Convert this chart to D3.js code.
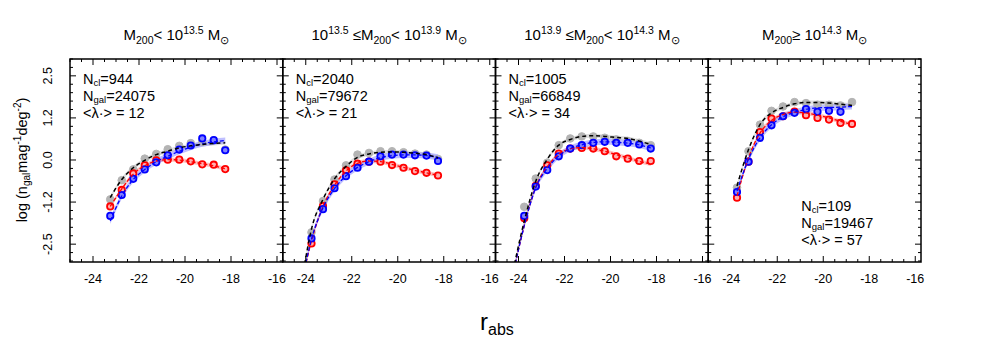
<!DOCTYPE html>
<html>
<head>
<meta charset="utf-8">
<script src="https://cdn.jsdelivr.net/npm/d3@7"></script>
<style>
  body { margin: 0; background: #fff; }
  text { font-family: "Liberation Sans", Arial, sans-serif; fill: #000; }
</style>
</head>
<body>
<div id="chart"></div>
<script>
// ---- data ----
const xTickVals = [-24, -22, -20, -18, -16];
const yTickVals = [2.5, 1.25, 0, -1.25, -2.5];
const yTickLabels = ["2.5", "1.2", "0.0", "-1.2", "-2.5"];

const nCl = ["944", "2040", "1005", "109"];
const nGal = ["24075", "79672", "66849", "19467"];
const lambdaMean = ["12", "21", "34", "57"];

// panel 1: M200 < 10^13.5
const p1Mag = [-23.25, -22.75, -22.25, -21.75, -21.25, -20.75, -20.25, -19.75, -19.25, -18.75, -18.25];
const p1Gray = [-1.17, -0.60, -0.28, 0.04, 0.18, 0.32, 0.42, 0.50, 0.54, 0.58, 0.31];
const p1Red = [-1.38, -0.89, -0.40, -0.16, -0.01, 0.01, 0.01, -0.04, -0.13, -0.14, -0.27];
const p1Blue = [-1.66, -1.04, -0.56, -0.28, -0.07, 0.14, 0.31, 0.43, 0.64, 0.59, 0.29];
const p1FitMag = [-23.25, -22.75, -22.25, -21.75, -21.25, -20.75, -20.25, -19.75, -19.25, -18.75, -18.25];
const p1FitBlack = [-1.12, -0.58, -0.23, -0.01, 0.16, 0.26, 0.36, 0.42, 0.46, 0.49, 0.51];
const p1FitRed = [-1.38, -0.86, -0.42, -0.17, -0.03, 0.01, 0.0, -0.05, -0.11, -0.17, -0.26];
const p1FitBlue = [-1.81, -1.07, -0.58, -0.28, -0.05, 0.11, 0.26, 0.38, 0.48, 0.54, 0.58];

// panel 2: 10^13.5 <= M200 < 10^13.9
const p2Mag = [-23.75, -23.25, -22.75, -22.25, -21.75, -21.25, -20.75, -20.25, -19.75, -19.25, -18.75, -18.25];
const p2Gray = [-2.15, -1.22, -0.58, -0.16, 0.16, 0.21, 0.26, 0.26, 0.23, 0.19, 0.16, 0.03];
const p2Red = [-2.48, -1.37, -0.72, -0.31, -0.11, -0.05, -0.05, -0.15, -0.23, -0.33, -0.38, -0.46];
const p2Blue = [-2.33, -1.46, -0.84, -0.48, -0.23, -0.05, 0.11, 0.16, 0.16, 0.14, 0.13, -0.03];
const p2FitMag = [-24.1, -23.75, -23.25, -22.75, -22.25, -21.75, -21.25, -20.75, -20.25, -19.75, -19.25, -18.75, -18.25];
const p2FitBlack = [-3.3, -2.05, -1.17, -0.56, -0.19, 0.08, 0.18, 0.23, 0.24, 0.23, 0.20, 0.16, 0.06];
const p2FitRed = [-3.4, -2.40, -1.38, -0.75, -0.33, -0.10, -0.03, -0.05, -0.13, -0.22, -0.31, -0.38, -0.46];
const p2FitBlue = [-3.4, -2.35, -1.42, -0.85, -0.47, -0.22, -0.05, 0.07, 0.13, 0.15, 0.15, 0.13, 0.08];

// panel 3: 10^13.9 <= M200 < 10^14.3
const p3Mag = [-23.75, -23.25, -22.75, -22.25, -21.75, -21.25, -20.75, -20.25, -19.75, -19.25, -18.75, -18.25];
const p3Gray = [-1.39, -0.55, -0.08, 0.44, 0.64, 0.70, 0.70, 0.66, 0.61, 0.56, 0.51, 0.44];
const p3Red = [-1.73, -0.77, -0.16, 0.19, 0.34, 0.36, 0.34, 0.26, 0.11, 0.04, -0.03, -0.03];
const p3Blue = [-1.66, -0.79, -0.30, 0.11, 0.34, 0.44, 0.51, 0.54, 0.51, 0.51, 0.46, 0.34];
const p3FitMag = [-24.3, -23.75, -23.25, -22.75, -22.25, -21.75, -21.25, -20.75, -20.25, -19.75, -19.25, -18.75, -18.25];
const p3FitBlack = [-3.5, -1.82, -0.63, 0.02, 0.44, 0.61, 0.70, 0.72, 0.70, 0.67, 0.64, 0.56, 0.46];
const p3FitRed = [-3.6, -1.95, -0.80, -0.20, 0.17, 0.33, 0.37, 0.33, 0.26, 0.16, 0.06, -0.04, -0.12];
const p3FitBlue = [-3.6, -1.95, -0.82, -0.25, 0.12, 0.34, 0.45, 0.52, 0.54, 0.53, 0.50, 0.45, 0.36];

// panel 4: M200 >= 10^14.3
const p4Mag = [-23.75, -23.25, -22.75, -22.25, -21.75, -21.25, -20.75, -20.25, -19.75, -19.25, -18.75];
const p4Gray = [-0.82, 0.26, 1.05, 1.46, 1.59, 1.72, 1.69, 1.64, 1.64, 1.62, 1.72];
const p4Red = [-1.12, -0.05, 0.83, 1.23, 1.30, 1.44, 1.33, 1.25, 1.20, 1.10, 1.07];
const p4Blue = [-0.95, -0.05, 0.66, 1.03, 1.30, 1.40, 1.51, 1.43, 1.46, 1.43];
const p4FitMag = [-23.75, -23.25, -22.75, -22.25, -21.75, -21.25, -20.75, -20.25, -19.75, -19.25, -18.75];
const p4FitBlack = [-0.77, 0.31, 1.05, 1.40, 1.56, 1.67, 1.71, 1.71, 1.69, 1.66, 1.62];
const p4FitRed = [-1.07, 0.06, 0.80, 1.17, 1.35, 1.42, 1.40, 1.33, 1.25, 1.15, 1.05];
const p4FitBlue = [-0.92, 0.02, 0.66, 1.05, 1.28, 1.42, 1.50, 1.55, 1.56, 1.57, 1.59];

const panels = [
    { mag: p1Mag, gray: p1Gray, red: p1Red, blue: p1Blue, fitMag: p1FitMag, fitBlack: p1FitBlack, fitRed: p1FitRed, fitBlue: p1FitBlue },
    { mag: p2Mag, gray: p2Gray, red: p2Red, blue: p2Blue, fitMag: p2FitMag, fitBlack: p2FitBlack, fitRed: p2FitRed, fitBlue: p2FitBlue },
    { mag: p3Mag, gray: p3Gray, red: p3Red, blue: p3Blue, fitMag: p3FitMag, fitBlack: p3FitBlack, fitRed: p3FitRed, fitBlue: p3FitBlue },
    { mag: p4Mag, gray: p4Gray, red: p4Red, blue: p4Blue, fitMag: p4FitMag, fitBlack: p4FitBlack, fitRed: p4FitRed, fitBlue: p4FitBlue }
];

// ---- layout ----
const W = 981, H = 357;
const plotLeft = 70, plotTop = 59, plotBottom = 262;
const pw = 212.75;

const svg = d3.select("#chart").append("svg")
    .attr("width", W)
    .attr("height", H);

const y = d3.scaleLinear().domain([-3.03, 3.0]).range([plotBottom, plotTop]);

function addTitle(g, cx, i) {
    const t = g.append("text")
        .attr("x", cx)
        .attr("y", 40)
        .attr("text-anchor", "middle")
        .style("font-size", "15px");
    const sub = (s) => t.append("tspan").attr("dy", 4).style("font-size", "10.5px").text(s);
    const sup = (s) => t.append("tspan").attr("dy", -6).style("font-size", "10.5px").text(s);
    const norm = (s, dy) => t.append("tspan").attr("dy", dy).text(s);
    if (i === 0) {
        norm("M", 0); sub("200"); norm("< 10", -4); sup("13.5"); norm(" M", 6); sub("\u2299");
    } else if (i === 1) {
        norm("10", 0); sup("13.5"); norm(" \u2264M", 6); sub("200"); norm("< 10", -4); sup("13.9"); norm(" M", 6); sub("\u2299");
    } else if (i === 2) {
        norm("10", 0); sup("13.9"); norm(" \u2264M", 6); sub("200"); norm("< 10", -4); sup("14.3"); norm(" M", 6); sub("\u2299");
    } else {
        norm("M", 0); sub("200"); norm("\u2265 10", -4); sup("14.3"); norm(" M", 6); sub("\u2299");
    }
}

function addInfo(g, x0, y0, i) {
    const lines = [
        ["N", "cl", "=" + nCl[i]],
        ["N", "gal", "=" + nGal[i]],
        ["<\u03bb\u00b7> = " + lambdaMean[i], null, null]
    ];
    lines.forEach((l, k) => {
        const t = g.append("text")
            .attr("x", x0)
            .attr("y", y0 + k * 17)
            .style("font-size", "14.5px");
        t.append("tspan").text(l[0]);
        if (l[1]) {
            t.append("tspan").attr("dy", 2).style("font-size", "9.5px").text(l[1]);
            t.append("tspan").attr("dy", -2).text(l[2]);
        }
    });
}

panels.forEach((p, i) => {
    const x0 = plotLeft + i * pw;
    const x = d3.scaleLinear().domain([-25, -15.75]).range([x0, x0 + pw]);
    const g = svg.append("g");

    const clipId = "clip" + i;
    svg.append("clipPath").attr("id", clipId)
        .append("rect")
        .attr("x", x0).attr("y", plotTop)
        .attr("width", pw).attr("height", plotBottom - plotTop);

    const plot = g.append("g").attr("clip-path", `url(#${clipId})`);

    const fitPts = (vals) => p.fitMag.map((m, k) => [m, vals[k]]);
    const line = d3.line()
        .x(d => x(d[0])).y(d => y(d[1]))
        .curve(d3.curveMonotoneX);
    const band = (hw) => d3.area()
        .x(d => x(d[0]))
        .y0(d => y(d[1] - hw))
        .y1(d => y(d[1] + hw))
        .curve(d3.curveMonotoneX);

    // error bands
    plot.append("path").datum(fitPts(p.fitBlack))
        .attr("d", band(0.06))
        .style("fill", "#d8d8d8").style("opacity", 0.8);
    plot.append("path").datum(fitPts(p.fitRed))
        .attr("d", band(0.06))
        .style("fill", "#ff8a8a").style("opacity", 0.55);
    plot.append("path").datum(fitPts(p.fitBlue))
        .attr("d", band(0.09))
        .style("fill", "#8a8aff").style("opacity", 0.55);

    // points
    plot.selectAll("circle.gray")
        .data(p.gray.map((v, k) => [p.mag[k], v]))
        .enter().append("circle")
        .attr("class", "gray")
        .attr("cx", d => x(d[0])).attr("cy", d => y(d[1]))
        .attr("r", 3.8)
        .style("fill", "#b4b4b4").style("stroke", "#b4b4b4");

    plot.selectAll("circle.red")
        .data(p.red.map((v, k) => [p.mag[k], v]))
        .enter().append("circle")
        .attr("class", "red")
        .attr("cx", d => x(d[0])).attr("cy", d => y(d[1]))
        .attr("r", 3.2)
        .style("fill", "#ffb0b0").style("stroke", "#ff0000").style("stroke-width", 1.8);

    plot.selectAll("circle.blue")
        .data(p.blue.map((v, k) => [p.mag[k], v]))
        .enter().append("circle")
        .attr("class", "blue")
        .attr("cx", d => x(d[0])).attr("cy", d => y(d[1]))
        .attr("r", 3.2)
        .style("fill", "#8080ff").style("stroke", "#0000ff").style("stroke-width", 1.8);

    // fit lines
    plot.append("path").datum(fitPts(p.fitRed))
        .attr("d", line)
        .style("fill", "none").style("stroke", "#ff0000")
        .style("stroke-width", 1.3).style("stroke-dasharray", "4,2");
    plot.append("path").datum(fitPts(p.fitBlue))
        .attr("d", line)
        .style("fill", "none").style("stroke", "#0000ff")
        .style("stroke-width", 1.3).style("stroke-dasharray", "4,2");
    plot.append("path").datum(fitPts(p.fitBlack))
        .attr("d", line)
        .style("fill", "none").style("stroke", "#000")
        .style("stroke-width", 1.5).style("stroke-dasharray", "4,3");

    // frame
    g.append("rect")
        .attr("x", x0).attr("y", plotTop)
        .attr("width", pw).attr("height", plotBottom - plotTop)
        .style("fill", "none").style("stroke", "#000").style("stroke-width", 1.5);

    // x ticks (inward, top and bottom)
    const xMinor = d3.range(-25, -15.7, 0.5);
    xMinor.forEach(v => {
        const major = Math.abs(v % 2) < 1e-6;
        const len = major ? 6 : 3;
        g.append("line").attr("x1", x(v)).attr("x2", x(v))
            .attr("y1", plotBottom).attr("y2", plotBottom - len)
            .style("stroke", "#000").style("stroke-width", 1);
        g.append("line").attr("x1", x(v)).attr("x2", x(v))
            .attr("y1", plotTop).attr("y2", plotTop + len)
            .style("stroke", "#000").style("stroke-width", 1);
    });

    g.selectAll("text.xt")
        .data(xTickVals)
        .enter().append("text")
        .attr("class", "xt")
        .attr("x", d => x(d))
        .attr("y", 283)
        .attr("text-anchor", "middle")
        .style("font-size", "12.5px")
        .text(d => d);

    // y ticks (inward, left and right)
    const yMinor = d3.range(-3, 3.01, 0.25);
    yMinor.forEach(v => {
        const major = yTickVals.some(t => Math.abs(t - v) < 1e-6);
        const len = major ? 6 : 3;
        g.append("line").attr("x1", x0).attr("x2", x0 + len)
            .attr("y1", y(v)).attr("y2", y(v))
            .style("stroke", "#000").style("stroke-width", 1);
        g.append("line").attr("x1", x0 + pw).attr("x2", x0 + pw - len)
            .attr("y1", y(v)).attr("y2", y(v))
            .style("stroke", "#000").style("stroke-width", 1);
    });

    addTitle(svg, x0 + pw / 2, i);
    if (i < 3) addInfo(svg, x0 + 13, 84, i);
    else addInfo(svg, x0 + 93, 211, i);
});

// y tick labels on first panel
svg.selectAll("text.yt")
    .data(yTickVals)
    .enter().append("text")
    .attr("class", "yt")
    .attr("transform", d => `translate(52,${y(d)}) rotate(-90)`)
    .attr("text-anchor", "middle")
    .style("font-size", "12.5px")
    .text((d, k) => yTickLabels[k]);

// y axis title
const yTitle = svg.append("text")
    .attr("transform", "translate(27,160) rotate(-90)")
    .attr("text-anchor", "middle")
    .style("font-size", "14.5px");
yTitle.append("tspan").text("log (n");
yTitle.append("tspan").attr("dy", 3).style("font-size", "10px").text("gal");
yTitle.append("tspan").attr("dy", -3).text("mag");
yTitle.append("tspan").attr("dy", -6).style("font-size", "10px").text("-1");
yTitle.append("tspan").attr("dy", 6).text("deg");
yTitle.append("tspan").attr("dy", -6).style("font-size", "10px").text("-2");
yTitle.append("tspan").attr("dy", 6).text(")");

// x axis title
const xTitle = svg.append("text")
    .attr("x", 480)
    .attr("y", 330)
    .style("font-size", "24px");
xTitle.append("tspan").text("r");
xTitle.append("tspan").attr("dy", 5).style("font-size", "16px").text("abs");
</script>
</body>
</html>
